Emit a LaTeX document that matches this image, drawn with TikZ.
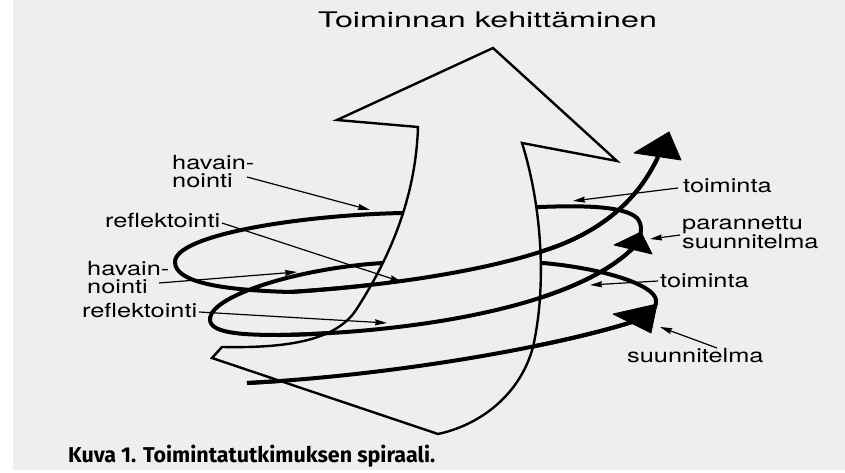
\documentclass[tikz,border=0pt]{standalone}
\usepackage{fontspec}
\usetikzlibrary{arrows.meta}
\newfontfamily\labfont[FakeStretch=1.3]{TeX Gyre Heros}
\newfontfamily\titfont[FakeStretch=1.5]{TeX Gyre Heros}
\newfontfamily\capfont{Fira Sans}
\definecolor{paper}{RGB}{238,238,238}
\newcommand{\twolines}[2]{\vtop{\hbox{#1}\hbox{#2}}}
\begin{document}
\begin{tikzpicture}[x=1pt,y=-1pt,
  spiral/.style={line width=4pt, line cap=butt, line join=round},
  bigarrow/.style={line width=2.4pt, line join=miter, fill=paper, draw=black},
  leader/.style={line width=1.2pt, -{Stealth[length=12pt,width=6pt,inset=1pt]}},
  head/.style={fill=black, draw=black, line width=0.8pt, line join=round},
  lab/.style={inner sep=0pt, anchor=base west, font=\labfont\fontsize{19.5}{18}\selectfont},
]
\useasboundingbox (0,0) rectangle (845,473);
\fill[white] (0,0) rectangle (845,473);
\fill[paper] (13,0) rectangle (845,470);

% spiral, whole (back parts get hidden by the big arrow)
\draw[spiral] (247,383) .. controls (400,375) and (560,345) .. (632,322)
  .. controls (648,317) and (657,310) .. (656,300)
  .. controls (654,284) and (600,268) .. (543,263) -- (383,263)
  .. controls (300,268) and (213,295) .. (210,318)
  .. controls (208,333) and (240,335) .. (280,335)
  .. controls (400,333) and (575,310) .. (636,245)
  .. controls (642,235) and (643,225) .. (637,218)
  .. controls (625,207) and (590,205) .. (540,207) -- (403,213)
  .. controls (300,215) and (175,235) .. (175,262)
  .. controls (175,282) and (220,290) .. (290,292)
  .. controls (400,285) and (500,268) .. (560,245)
  .. controls (610,225) and (640,195) .. (658,157);

% big arrow
\draw[bigarrow] (493,48) -- (617,161) -- (522,143)
  .. controls (540,200) and (548,280) .. (533,347)
  .. controls (520,395) and (480,425) .. (438,434)
  -- (212,358) -- (222,347)
  .. controls (280,348) and (334,343) .. (356,310)
  .. controls (395,250) and (416,190) .. (418,127)
  -- (337,120) -- cycle;

% front parts of spiral
\draw[spiral] (247,383) .. controls (400,375) and (560,345) .. (632,322);
\draw[spiral] (280,335) .. controls (400,333) and (575,310) .. (636,245);
\draw[spiral] (290,292) .. controls (400,285) and (500,268) .. (560,245)
  .. controls (610,225) and (640,195) .. (658,157);

% arrowheads of spiral
\filldraw[head] (613,314) -- (657,304) -- (651,333) -- cycle;
\filldraw[head] (614,245) -- (641,232) -- (652,254) -- cycle;
\filldraw[head] (634,153) -- (669,132) -- (681,160) -- cycle;

% title and caption
\node[anchor=base west, inner sep=0pt, font=\titfont\fontsize{21.5}{24}\selectfont] (title) at (318,28) {Toiminnan kehittäminen};
\node[anchor=base west, inner sep=0pt] (cap) at (68,462) {\resizebox{367pt}{!}{\capfont\bfseries\fontsize{22}{26}\selectfont Kuva 1. Toimintatutkimuksen spiraali.}};

% labels
\node[lab] (hav1) at (172,169) {\twolines{havain-}{nointi}};
\node[lab] (ref1) at (105,227) {reflektointi};
\node[lab] (hav2) at (87,275) {\twolines{havain-}{nointi}};
\node[lab] (ref2) at (82,317) {reflektointi};
\node[lab] (toi1) at (683,193) {toiminta};
\node[lab] (par) at (682,229) {\twolines{parannettu}{suunnitelma}};
\node[lab] (toi2) at (660,287) {toiminta};
\node[lab] (suu) at (627,362) {suunnitelma};

% leader lines
\coordinate (a1s) at (247,177); \coordinate (a1e) at (370,210);
\coordinate (a2s) at (222,223); \coordinate (a2e) at (402,282);
\coordinate (a3s) at (159,283); \coordinate (a3e) at (297,272);
\coordinate (a4s) at (199,312); \coordinate (a4e) at (387,323);
\coordinate (a5s) at (678,188); \coordinate (a5e) at (573,201);
\coordinate (a6s) at (680,235); \coordinate (a6e) at (650,239);
\coordinate (a7s) at (658,281); \coordinate (a7e) at (590,285);
\coordinate (a8s) at (717,348); \coordinate (a8e) at (660,327);
\foreach \k in {1,...,8} {\draw[leader] (a\k s) -- (a\k e);}
\end{tikzpicture}
\end{document}
